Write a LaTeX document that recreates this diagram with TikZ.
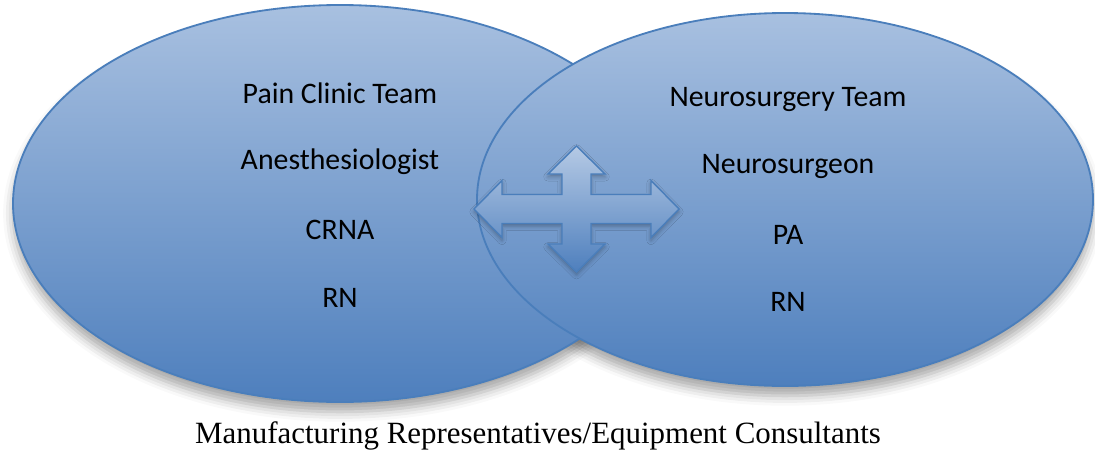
\documentclass[tikz,border=0pt]{standalone}
\usepackage{fontspec}
\setmainfont{Liberation Serif}
\newfontfamily\calfont{Carlito}
\usepackage{tikz}
\usetikzlibrary{shadows.blur}

\definecolor{venntop}{HTML}{A8C0E0}
\definecolor{vennbot}{HTML}{4E7FBD}
\definecolor{vennline}{HTML}{4A7EBB}

\tikzset{
  teamshadow/.style={blur shadow={shadow xshift=0pt,shadow yshift=-7pt,shadow blur radius=7pt,shadow opacity=35}},
  teamset/.style={draw=vennline,line width=1.3pt,top color=venntop,bottom color=vennbot},
  quadarrow/.style={draw=vennline,line width=1pt,line join=miter,top color=venntop!85!white,bottom color=vennbot,
    blur shadow={shadow xshift=0pt,shadow yshift=-2pt,shadow blur radius=3pt,shadow opacity=30}},
  member/.style={font=\calfont\fontsize{21.2}{25}\selectfont,text=black,inner sep=0pt},
}

\begin{document}
\begin{tikzpicture}[x=0.025cm,y=-0.025cm]
\useasboundingbox (0,0) rectangle (1095,461);

% shadows first, so the right set casts none on the left one
\path[teamshadow] (340,203.5) ellipse (327 and 198.5);
\path[teamshadow] (785,199.5) ellipse (308 and 186.5);

\draw[teamset] (340,203.5) ellipse (327 and 198.5); % pain clinic
\draw[teamset] (785,199.5) ellipse (308 and 186.5); % neurosurgery

% four way arrow in the overlap
\coordinate (cross) at (576.5,209);
\begin{scope}[shift={(cross)}]
\draw[quadarrow] (0,-63) -- (28.5,-35) -- (14.5,-35) -- (14.5,-14.5) -- (74.5,-14.5)
  -- (74.5,-28.5) -- (102.5,0) -- (74.5,28.5) -- (74.5,14.5) -- (14.5,14.5)
  -- (14.5,35) -- (28.5,35) -- (0,63) -- (-28.5,35) -- (-14.5,35) -- (-14.5,14.5)
  -- (-74.5,14.5) -- (-74.5,28.5) -- (-102.5,0) -- (-74.5,-28.5) -- (-74.5,-14.5)
  -- (-14.5,-14.5) -- (-14.5,-35) -- (-28.5,-35) -- cycle;
\end{scope}

\node[member] (pain) at (340,93) {Pain Clinic Team};
\node[member] (anes) at (340,162) {Anesthesiologist};
\node[member] (crna) at (340,230) {CRNA};
\node[member] (rnl) at (340,298) {RN};

\node[member] (neuro) at (788,99) {Neurosurgery Team};
\node[member] (surg) at (788,166) {Neurosurgeon};
\node[member] (pa) at (788,235) {PA};
\node[member] (rnr) at (788,302) {RN};

\node[font=\fontsize{22}{26}\selectfont,inner sep=0pt] (reps) at (538,436) {Manufacturing Representatives/Equipment Consultants};
\end{tikzpicture}
\end{document}
